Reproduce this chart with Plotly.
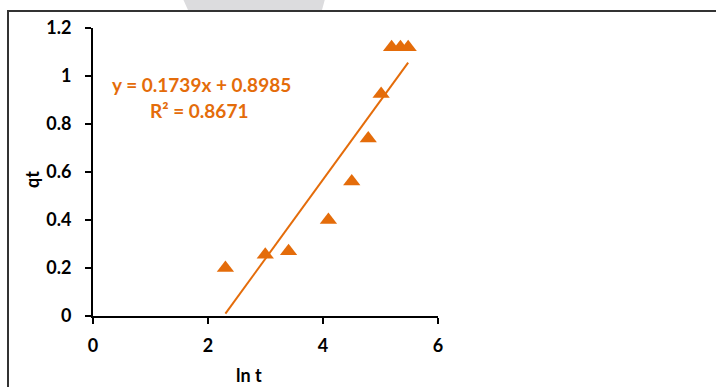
import numpy as np
import plotly.graph_objects as go

# Data
ln_t = [2.303, 2.996, 3.401, 4.094, 4.500, 4.787, 5.011, 5.193, 5.347, 5.481]
qt = [0.20, 0.255, 0.27, 0.40, 0.56, 0.74, 0.925, 1.12, 1.12, 1.12]
x_ticks = [0, 2, 4, 6]
x_tick_labels = ["0", "2", "4", "6"]
y_ticks = [0, 0.2, 0.4, 0.6, 0.8, 1.0, 1.2]
y_tick_labels = ["0", "0.2", "0.4", "0.6", "0.8", "1", "1.2"]
eq_line1 = "y = 0.1739x + 0.8985"
eq_line2 = "R² = 0.8671"
x_title = "ln t"
y_title = "qt"

ORANGE = "#E46C0A"
FONT = "Lato"

# Linear trendline fitted to the data
slope, intercept = np.polyfit(ln_t, qt, 1)
x_fit = np.array([min(ln_t), max(ln_t)])
y_fit = slope * x_fit + intercept

fig = go.Figure()
fig.add_trace(go.Scatter(x=x_fit, y=y_fit, mode="lines",
                         line=dict(color=ORANGE, width=2), showlegend=False,
                         hoverinfo="skip"))
fig.add_trace(go.Scatter(x=ln_t, y=qt, mode="markers",
                         marker=dict(symbol="triangle-up", size=15, color=ORANGE,
                                     line=dict(width=0)),
                         showlegend=False))

fig.update_layout(
    width=716, height=387,
    margin=dict(l=93, r=278, t=28, b=71),
    paper_bgcolor="white", plot_bgcolor="white",
    font=dict(family=FONT, size=16, color="black"),
    xaxis=dict(range=[0, 6], tickvals=x_ticks,
               ticktext=["<b>" + t + "</b>" for t in x_tick_labels],
               showgrid=False, zeroline=False, automargin=False,
               showline=True, linecolor="black", linewidth=2,
               ticks="outside", ticklen=6, tickwidth=1.5, tickcolor="black",
               ticklabelstandoff=6,
               tickfont=dict(family=FONT, size=18, color="black")),
    yaxis=dict(range=[0, 1.2], tickvals=y_ticks,
               ticktext=["<b>" + t + "</b>" for t in y_tick_labels],
               showgrid=False, zeroline=False, automargin=False,
               showline=True, linecolor="black", linewidth=2,
               ticks="outside", ticklen=6, tickwidth=1.5, tickcolor="black",
               ticklabelstandoff=10,
               tickfont=dict(family=FONT, size=18, color="black")),
)

def px(xp):
    return (xp - 93) / 345
def py(yp):
    return (316 - yp) / 288

# Axis titles
fig.add_annotation(xref="paper", yref="paper", x=px(32), y=py(180),
                   xanchor="center", yanchor="middle", textangle=-90,
                   text="<b>" + y_title + "</b>", showarrow=False,
                   font=dict(family=FONT, size=18, color="black"))
fig.add_annotation(xref="paper", yref="paper", x=px(249), y=py(375),
                   xanchor="center", yanchor="middle", borderpad=0,
                   text="<b>" + x_title + "</b>", showarrow=False,
                   font=dict(family=FONT, size=18, color="black"))

# Trendline label
fig.add_annotation(xref="paper", yref="paper", x=px(201), y=py(85),
                   xanchor="center", yanchor="middle",
                   text="<b>" + eq_line1 + "</b>", showarrow=False,
                   font=dict(family=FONT, size=19, color=ORANGE))
fig.add_annotation(xref="paper", yref="paper", x=px(199), y=py(110),
                   xanchor="center", yanchor="middle",
                   text="<b>" + eq_line2 + "</b>", showarrow=False,
                   font=dict(family=FONT, size=19, color=ORANGE))

# Outer chart border (left & top visible)
fig.add_shape(type="rect", xref="paper", yref="paper",
              x0=px(8), x1=px(730), y0=py(400), y1=py(11),
              line=dict(color="#333333", width=2), layer="below")

# Grey watermark fragment at top
path = (f"M {px(183)},{py(-1)} L {px(325)},{py(-1)} L {px(322)},{py(10)} "
        f"L {px(188)},{py(10)} Z")
fig.add_shape(type="path", xref="paper", yref="paper", path=path,
              fillcolor="#DCDCDE", line=dict(width=0), layer="below")

fig.write_html("out.html", config={"displayModeBar": False},
               post_script="document.body.style.margin='0';")
